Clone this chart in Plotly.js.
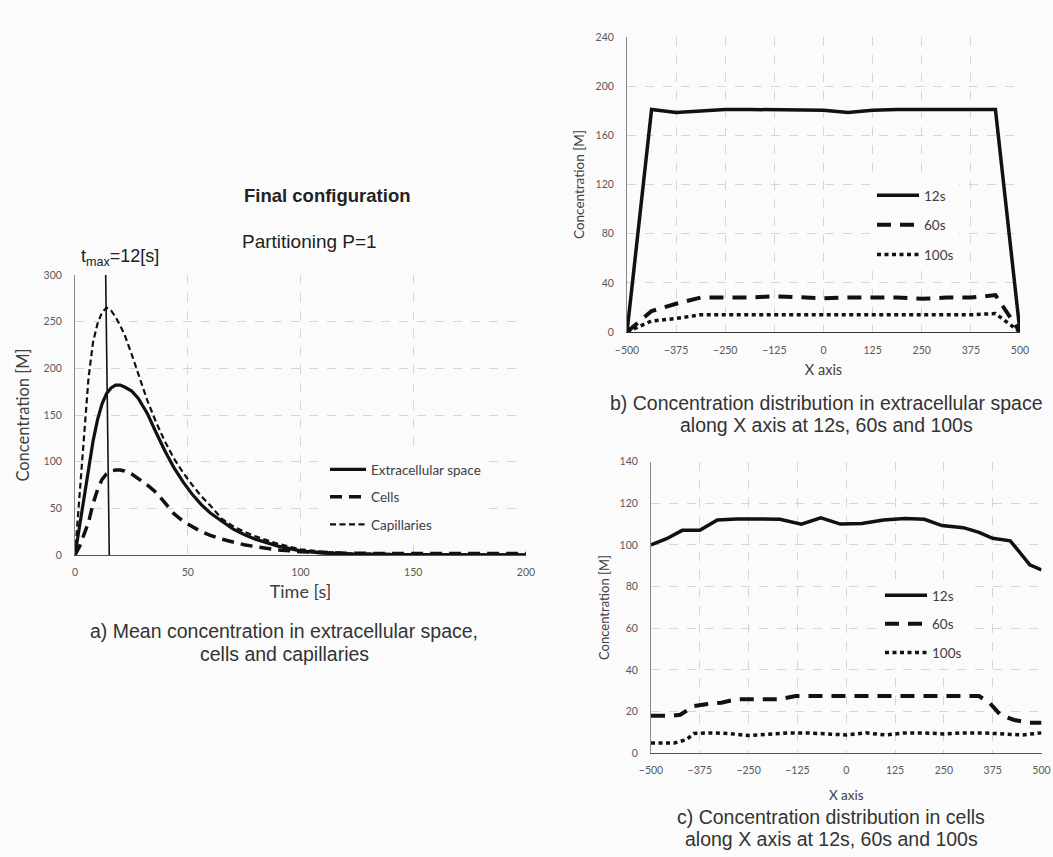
<!DOCTYPE html>
<html>
<head>
<meta charset="utf-8">
<script src="https://cdn.plot.ly/plotly-3.0.1.min.js"></script>
<style>
  html, body { margin: 0; padding: 0; background: #fbfbfb; }
  #chart { width: 1053px; height: 857px; }
</style>
</head>
<body>
<div id="chart"></div>
<script>
// ---------- Panel a: mean concentration vs time ----------
const timeS = [0,2,4,6,8,10,12,14,16,18,20,22,25,28,32,36,40,44,48,52,56,60,65,70,75,80,90,100,110,120,140,160,180,200];
const extracellular = [0,30,62,95,122,145,162,173,179,182,182,180,176,168,152,131,111,93,78,65,54,45,36,28,22,17,9.5,4.5,2,1,0.5,0.3,0.2,0.2];
const cells = [0,9,22,35,55,70,81,87,90,91,91,90,87,82,75,67,56,44,36,30,25,21,17,14,11,9,5.5,3.5,2.5,2,1.5,1.5,1.5,1.5];
const capillaries = [0,60,130,190,228,248,260,265,262,255,246,236,216,194,166,142,121,103,88,75,63,53,39,31,25,20,12,6,3.5,2,1,0.6,0.5,0.5];
const seriesNamesA = ['Extracellular space', 'Cells', 'Capillaries'];
const tmaxLine = {top: 13.6, bottom: 15.2};
const tmaxLabel = 't<sub>max</sub>=12[s]';
const ticksA_x = [0,50,100,150,200];
const ticksA_y = [0,50,100,150,200,250,300];

// ---------- Panel b: extracellular space along X ----------
const xB = [-500,-437.5,-375,-312.5,-250,-187.5,-125,-62.5,0,62.5,125,187.5,250,312.5,375,437.5,500];
const b12s = [0,181,178.5,180,181,181,181,181,180.5,178.5,180.5,181,181,181,180.5,181,0];
const b60s = [0,17,23,28,28,28,29,28,27.5,28,28,28,27,28,28,30,0];
const b100s = [0,9,11,14,14,14,14.5,14,14,14,14,14,14,14,14,15,0];

// ---------- Panel c: cells along X ----------
const xC12 = [-500,-460,-420,-375,-330,-280,-230,-170,-115,-65,-15,40,95,150,200,245,300,340,375,420,470,500];
const c12s = [100,103,107,107,112,112.5,112.5,112.3,110,113,110,110.3,112,112.7,112.3,109.3,108.3,106,103.2,102,90.5,88];
const xC60 = [-500,-450,-425,-390,-355,-320,-280,-170,-130,340,368,395,430,470,500];
const c60s = [18,18,18.5,22.7,23.7,24.3,26,26,27.5,27.5,24,18.4,16,14.7,14.7];
const xC100 = [-500,-440,-410,-390,-350,-300,-250,-200,-150,-100,-50,0,50,100,150,200,250,300,350,400,450,500];
const c100s = [5,5,6.5,9.5,9.8,9.5,8.5,9,9.8,9.8,9.3,8.8,9.8,8.8,9.8,9.8,9.3,9.8,9.8,9.3,8.8,9.8];
const timeNames = ['12s', '60s', '100s'];
const ticksX = [-500,-375,-250,-125,0,125,250,375,500];

const BG = '#fbfbfb';
const W = 1053, H = 857;
const px = v => v / W;
const py = v => 1 - v / H;

const dashCellsA = '12px,7px';
const dashCap = '6px,3.5px';
const dash60 = '14px,9px';
const dot100 = '4px,3.5px';

const traces = [
  {x: timeS, y: extracellular, name: seriesNamesA[0], type: 'scatter', mode: 'lines', xaxis: 'x', yaxis: 'y',
   line: {color: '#111', width: 3.2}, legend: 'legend', legendgroup: 'a1', cliponaxis: false},
  {x: timeS, y: cells, name: seriesNamesA[1], type: 'scatter', mode: 'lines', xaxis: 'x', yaxis: 'y',
   line: {color: '#111', width: 3.5, dash: dashCellsA}, legend: 'legend', legendgroup: 'a2', cliponaxis: false},
  {x: timeS, y: capillaries, name: seriesNamesA[2], type: 'scatter', mode: 'lines', xaxis: 'x', yaxis: 'y',
   line: {color: '#111', width: 2.2, dash: dashCap}, legend: 'legend', legendgroup: 'a3', cliponaxis: false},

  {x: xB, y: b12s, name: timeNames[0], type: 'scatter', mode: 'lines', xaxis: 'x2', yaxis: 'y2',
   line: {color: '#111', width: 3.5}, legend: 'legend2', legendgroup: 'b1', cliponaxis: false},
  {x: xB, y: b60s, name: timeNames[1], type: 'scatter', mode: 'lines', xaxis: 'x2', yaxis: 'y2',
   line: {color: '#111', width: 4, dash: dash60}, legend: 'legend2', legendgroup: 'b2', cliponaxis: false},
  {x: xB, y: b100s, name: timeNames[2], type: 'scatter', mode: 'lines', xaxis: 'x2', yaxis: 'y2',
   line: {color: '#111', width: 3.5, dash: dot100}, legend: 'legend2', legendgroup: 'b3', cliponaxis: false},

  {x: xC12, y: c12s, name: timeNames[0], type: 'scatter', mode: 'lines', xaxis: 'x3', yaxis: 'y3',
   line: {color: '#111', width: 3.5}, legend: 'legend3', legendgroup: 'c1', cliponaxis: false},
  {x: xC60, y: c60s, name: timeNames[1], type: 'scatter', mode: 'lines', xaxis: 'x3', yaxis: 'y3',
   line: {color: '#111', width: 4, dash: dash60}, legend: 'legend3', legendgroup: 'c2', cliponaxis: false},
  {x: xC100, y: c100s, name: timeNames[2], type: 'scatter', mode: 'lines', xaxis: 'x3', yaxis: 'y3',
   line: {color: '#111', width: 3.5, dash: dot100}, legend: 'legend3', legendgroup: 'c3', cliponaxis: false}
];

const tickFont = {family: 'Lato, sans-serif', size: 10.5, color: '#595959'};
const gridCommon = {showgrid: true, gridcolor: '#d6d6d6', griddash: 'dash', gridwidth: 1, zeroline: false,
  showline: true, linecolor: '#8a8a8a', linewidth: 1, ticks: '', tickfont: tickFont, automargin: false, fixedrange: true};

const capFont = {family: 'Liberation Sans, Arial, sans-serif', size: 19.5, color: '#333'};
function caption(text, x, y) {
  return {text: text, xref: 'paper', yref: 'paper', x: px(x), y: py(y), xanchor: 'center', yanchor: 'middle',
    showarrow: false, font: capFont};
}

const layout = {
  width: W, height: H,
  margin: {l: 0, r: 0, t: 0, b: 0},
  paper_bgcolor: BG, plot_bgcolor: BG,
  font: {family: 'Lato, sans-serif', color: '#404040'},
  showlegend: true,
  xaxis: Object.assign({}, gridCommon, {domain: [px(75), px(526)], anchor: 'y', range: [0, 200], tickvals: ticksA_x,
    linecolor: '#555', ticklabelstandoff: 7,
    title: {text: 'Time [s]', font: {size: 18, color: '#404040'}, standoff: 8}}),
  yaxis: Object.assign({}, gridCommon, {domain: [py(555), py(275)], anchor: 'x', range: [0, 300], tickvals: ticksA_y,
    ticklabelstandoff: 10,
    title: {text: 'Concentration [M]', font: {size: 16.5, color: '#404040'}, standoff: 9}}),

  xaxis2: Object.assign({}, gridCommon, {domain: [px(627), px(1020)], anchor: 'y2', range: [-500, 500], tickvals: ticksX,
    linecolor: '#333', ticklabelstandoff: 8,
    title: {text: 'X axis', font: {size: 14.5, color: '#404040'}, standoff: 10}}),
  yaxis2: Object.assign({}, gridCommon, {domain: [py(332), py(37)], anchor: 'x2', range: [0, 240], dtick: 40, tick0: 0,
    ticklabelstandoff: 10,
    title: {text: 'Concentration [M]', font: {size: 13.5, color: '#404040'}, standoff: 7}}),

  xaxis3: Object.assign({}, gridCommon, {domain: [px(651), px(1041.5)], anchor: 'y3', range: [-500, 500], tickvals: ticksX,
    linecolor: '#555', ticklabelstandoff: 7,
    title: {text: 'X axis', font: {size: 13.5, color: '#404040'}, standoff: 15}}),
  yaxis3: Object.assign({}, gridCommon, {domain: [py(753.3), py(461.6)], anchor: 'x3', range: [0, 140], dtick: 20, tick0: 0,
    ticklabelstandoff: 10,
    title: {text: 'Concentration [M]', font: {size: 13, color: '#404040'}, standoff: 7}}),

  legend: {x: px(325), y: py(454), xanchor: 'left', yanchor: 'top', bgcolor: BG, borderwidth: 0,
    font: {family: 'Lato, sans-serif', size: 13.5, color: '#404040'}, traceorder: 'grouped', tracegroupgap: 7, itemwidth: 36},
  legend2: {x: px(872), y: py(180), xanchor: 'left', yanchor: 'top', bgcolor: BG, borderwidth: 0,
    font: {family: 'Lato, sans-serif', size: 13.5, color: '#404040'}, traceorder: 'grouped', tracegroupgap: 9, itemwidth: 42},
  legend3: {x: px(880), y: py(580), xanchor: 'left', yanchor: 'top', bgcolor: BG, borderwidth: 0,
    font: {family: 'Lato, sans-serif', size: 13.5, color: '#404040'}, traceorder: 'grouped', tracegroupgap: 8, itemwidth: 42},

  shapes: [
    {type: 'line', xref: 'x', yref: 'y', x0: tmaxLine.top, y0: 300, x1: tmaxLine.bottom, y1: 0,
     line: {color: '#111', width: 1.6}, layer: 'above'}
  ],
  annotations: [
    {text: tmaxLabel, xref: 'paper', yref: 'paper', x: px(120), y: py(257), xanchor: 'center', yanchor: 'middle',
     showarrow: false, font: {family: 'Liberation Sans, Arial, sans-serif', size: 18, color: '#222'}},
    {text: '<b>Final configuration</b>', xref: 'paper', yref: 'paper', x: px(242), y: py(195), xanchor: 'left', yanchor: 'middle',
     showarrow: false, font: {family: 'Liberation Sans, Arial, sans-serif', size: 18.5, color: '#222'}},
    {text: 'Partitioning P=1', xref: 'paper', yref: 'paper', x: px(240), y: py(241), xanchor: 'left', yanchor: 'middle',
     showarrow: false, font: {family: 'Liberation Sans, Arial, sans-serif', size: 19, color: '#222'}},
    caption('a) Mean concentration in extracellular space,', 284, 631),
    caption('cells and capillaries', 284, 654),
    caption('b) Concentration distribution in extracellular space', 826, 403),
    caption('along X axis at 12s, 60s and 100s', 826, 425),
    caption('c) Concentration distribution in cells', 831, 817),
    caption('along X axis at 12s, 60s and 100s', 831, 839)
  ]
};

Plotly.newPlot('chart', traces, layout, {displayModeBar: false, staticPlot: true});
</script>
</body>
</html>
